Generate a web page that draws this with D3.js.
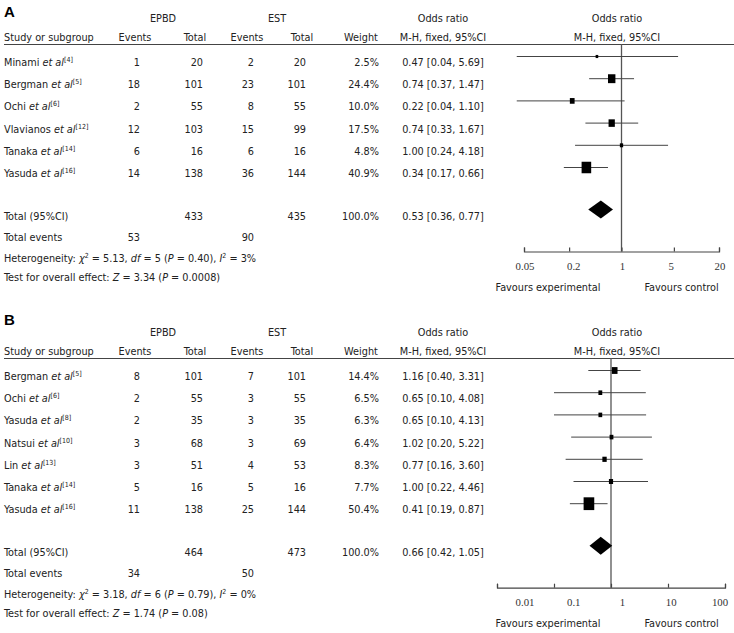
<!DOCTYPE html>
<html><head><meta charset="utf-8">
<script src="https://cdn.jsdelivr.net/npm/d3@7"></script>
<style>
body{margin:0;background:#fff}
svg{display:block}
text{font-family:"DejaVu Sans Condensed","DejaVu Sans",sans-serif;fill:#222}
</style>
</head><body>
<svg id="c" width="734" height="633"></svg>
<script>
// ---------- Panel A data ----------
const studiesA = ["Minami","Bergman","Ochi","Vlavianos","Tanaka","Yasuda"];
const refsA = ["4","5","6","12","14","16"];
const epbdEventsA = [1,18,2,12,6,14];
const epbdTotalA = [20,101,55,103,16,138];
const estEventsA = [2,23,8,15,6,36];
const estTotalA = [20,101,55,99,16,144];
const weightA = [2.5,24.4,10.0,17.5,4.8,40.9];
const orA = [0.47,0.74,0.22,0.74,1.00,0.34];
const lowA = [0.04,0.37,0.04,0.33,0.24,0.17];
const highA = [5.69,1.47,1.10,1.67,4.18,0.66];
const totalsA = [433,435];
const totalWeightA = 100.0;
const totalEventsA = [53,90];
const pooledA = [0.53,0.36,0.77];
const hetA = ["5.13","5","0.40","3%"];
const effectA = ["3.34","0.0008"];
const ticksA = [0.05,0.2,1,5,20];
const tickLabelsA = ["0.05","0.2","1","5","20"];

// ---------- Panel B data ----------
const studiesB = ["Bergman","Ochi","Yasuda","Natsui","Lin","Tanaka","Yasuda"];
const refsB = ["5","6","8","10","13","14","16"];
const epbdEventsB = [8,2,2,3,3,5,11];
const epbdTotalB = [101,55,35,68,51,16,138];
const estEventsB = [7,3,3,3,4,5,25];
const estTotalB = [101,55,35,69,53,16,144];
const weightB = [14.4,6.5,6.3,6.4,8.3,7.7,50.4];
const orB = [1.16,0.65,0.65,1.02,0.77,1.00,0.41];
const lowB = [0.40,0.10,0.10,0.20,0.16,0.22,0.19];
const highB = [3.31,4.08,4.13,5.22,3.60,4.46,0.87];
const totalsB = [464,473];
const totalWeightB = 100.0;
const totalEventsB = [34,50];
const pooledB = [0.66,0.42,1.05];
const hetB = ["3.18","6","0.79","0%"];
const effectB = ["1.74","0.08"];
const ticksB = [0.01,0.1,1,10,100];
const tickLabelsB = ["0.01","0.1","1","10","100"];

const groupNames = ["EPBD","EST"];

const svg = d3.select("#c");
const FS = 10.8;
const f2 = d3.format(".2f"), f1 = d3.format(".1f");
const ciText = (o,l,h) => `${f2(o)} [${f2(l)}, ${f2(h)}]`;

function drawPanel(p) {
  const g = svg.append("g");
  const n = p.studies.length;
  const H = p.H;
  const y = d3.scalePoint().domain(d3.range(n)).range([H + 12.5, H + 12.5 + 22.2 * (n - 1)]);
  const yD = y(n - 1) + 42, yAx = yD + 42;
  const x = d3.scaleLog().domain(d3.extent(p.ticks)).range(p.xr);
  const xl = d3.scalePoint().domain(p.tickLabels).range([525, 720]);
  const wS = d3.scaleSqrt().domain([0, 100]).range([0, 15]);
  const col = {ee:140, et:203, se:254, st:306, w:379, or:443, plot:617};

  g.append("text").attr("x", 4).attr("y", p.labelY)
    .style("font-family", "'Liberation Sans',Arial,sans-serif")
    .attr("font-weight", "bold").attr("font-size", 15).style("fill","#000").text(p.label);

  const txt = (t, xx, yy, anchor) => g.append("text").attr("x", xx).attr("y", yy)
    .attr("text-anchor", anchor || "middle").attr("font-size", FS).text(t);

  txt(groupNames[0], 163, H - 22);
  txt(groupNames[1], 277, H - 22);
  txt("Odds ratio", col.or, H - 22);
  txt("Odds ratio", col.plot, H - 22);
  txt("Study or subgroup", 4, H - 3, "start");
  txt("Events", 135, H - 3); txt("Total", 195, H - 3);
  txt("Events", 247, H - 3); txt("Total", 302, H - 3);
  txt("Weight", 361, H - 3);
  txt("M-H, fixed, 95%CI", col.or, H - 3);
  txt("M-H, fixed, 95%CI", col.plot, H - 3);
  g.append("line").attr("x1", 4).attr("x2", 734).attr("y1", H + 0.5).attr("y2", H + 0.5)
    .attr("stroke", "#444").attr("stroke-width", 1);

  // study rows
  d3.range(n).forEach(i => {
    const yy = y(i) + 9.5;
    const t = g.append("text").attr("x", 4).attr("y", yy).attr("font-size", FS);
    t.append("tspan").text(p.studies[i] + " ");
    t.append("tspan").attr("font-style", "italic").text("et al");
    t.append("tspan").attr("font-size", 7).attr("dy", -4).text("[" + p.refs[i] + "]");
    txt(p.ee[i], col.ee, yy, "end");
    txt(p.et[i], col.et, yy, "end");
    txt(p.se[i], col.se, yy, "end");
    txt(p.st[i], col.st, yy, "end");
    txt(f1(p.w[i]) + "%", col.w, yy, "end");
    txt(ciText(p.or[i], p.lo[i], p.hi[i]), col.or, yy);
  });

  // totals
  txt("Total (95%CI)", 4, yD + 10, "start");
  txt(p.totals[0], col.et, yD + 10, "end");
  txt(p.totals[1], col.st, yD + 10, "end");
  txt(f1(p.totalW) + "%", col.w, yD + 10, "end");
  txt(ciText(p.pooled[0], p.pooled[1], p.pooled[2]), col.or, yD + 10);
  txt("Total events", 4, yD + 31, "start");
  txt(p.tev[0], col.ee, yD + 31, "end");
  txt(p.tev[1], col.se, yD + 31, "end");

  const het = g.append("text").attr("x", 4).attr("y", yD + 52).attr("font-size", FS);
  het.append("tspan").text("Heterogeneity: ");
  het.append("tspan").attr("font-style", "italic").text("χ");
  het.append("tspan").attr("font-size", 7).attr("dy", -4).text("2");
  het.append("tspan").attr("dy", 4).text(" = " + p.het[0] + ", ");
  het.append("tspan").attr("font-style", "italic").text("df");
  het.append("tspan").text(" = " + p.het[1] + " (");
  het.append("tspan").attr("font-style", "italic").text("P");
  het.append("tspan").text(" = " + p.het[2] + "), ");
  het.append("tspan").attr("font-style", "italic").text("I");
  het.append("tspan").attr("font-size", 7).attr("dy", -4).text("2");
  het.append("tspan").attr("dy", 4).text(" = " + p.het[3]);

  const eff = g.append("text").attr("x", 4).attr("y", yD + 71).attr("font-size", FS);
  eff.append("tspan").text("Test for overall effect: ");
  eff.append("tspan").attr("font-style", "italic").text("Z");
  eff.append("tspan").text(" = " + p.eff[0] + " (");
  eff.append("tspan").attr("font-style", "italic").text("P");
  eff.append("tspan").text(" = " + p.eff[1] + ")");

  // forest plot
  g.append("line").attr("x1", x(1)).attr("x2", x(1)).attr("y1", H).attr("y2", yAx)
    .attr("stroke", "#555").attr("stroke-width", 1.3);

  d3.range(n).forEach(i => {
    g.append("line").attr("x1", x(p.lo[i])).attr("x2", x(p.hi[i]))
      .attr("y1", y(i)).attr("y2", y(i)).attr("stroke", "#444").attr("stroke-width", 1);
    const s = Math.max(2.6, wS(p.w[i]));
    g.append("rect").attr("x", x(p.or[i]) - s / 2).attr("y", y(i) - s * 0.6)
      .attr("width", s).attr("height", s * 1.2).attr("fill", "#000");
  });

  const dpts = [[x(p.pooled[1]), yD], [x(p.pooled[0]), yD - 9], [x(p.pooled[2]), yD], [x(p.pooled[0]), yD + 9]];
  g.append("path").attr("d", d3.line()(dpts) + "Z").attr("fill", "#000");

  const ax = g.append("g").attr("transform", `translate(0,${yAx})`)
    .call(d3.axisTop(x).tickValues(p.ticks).tickSize(4).tickSizeOuter(4).tickFormat(""));
  ax.selectAll("path,line").attr("stroke", "#444").attr("stroke-width", 1.2);

  p.tickLabels.forEach(t => {
    g.append("text").attr("x", xl(t)).attr("y", yAx + 18).attr("text-anchor", "middle")
      .attr("font-size", FS).style("font-family", "'Liberation Serif','DejaVu Serif',serif").style("fill","#333").text(t);
  });
  txt("Favours experimental", xl(p.tickLabels[2]) - 22, yAx + 39, "end");
  txt("Favours control", xl(p.tickLabels[2]) + 22, yAx + 39, "start");
}

drawPanel({label:"A", labelY:17, H:44, xr:[524,719],
  studies:studiesA, refs:refsA, ee:epbdEventsA, et:epbdTotalA, se:estEventsA, st:estTotalA,
  w:weightA, or:orA, lo:lowA, hi:highA, totals:totalsA, totalW:totalWeightA, tev:totalEventsA,
  pooled:pooledA, het:hetA, eff:effectA, ticks:ticksA, tickLabels:tickLabelsA});
drawPanel({label:"B", labelY:325, H:358, xr:[497,725],
  studies:studiesB, refs:refsB, ee:epbdEventsB, et:epbdTotalB, se:estEventsB, st:estTotalB,
  w:weightB, or:orB, lo:lowB, hi:highB, totals:totalsB, totalW:totalWeightB, tev:totalEventsB,
  pooled:pooledB, het:hetB, eff:effectB, ticks:ticksB, tickLabels:tickLabelsB});
</script>
</body></html>
